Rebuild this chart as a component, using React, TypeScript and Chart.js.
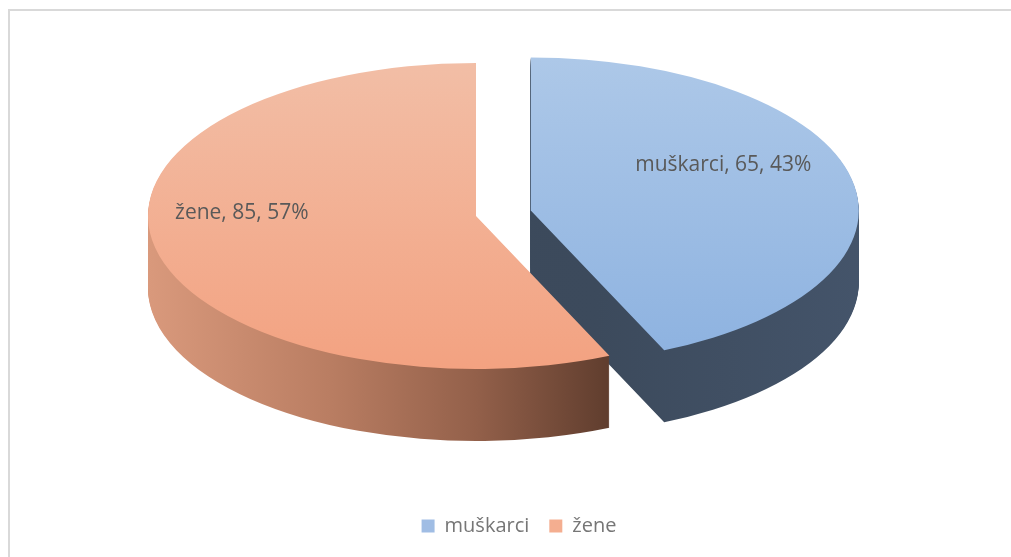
import { useEffect, useRef } from 'react';
import { Chart, registerables } from 'chart.js';

Chart.register(...registerables);

// ---- data ----
const categories = ['muškarci', 'žene'];
const values = [65, 85];

// ---- styles ----
const legendColors = ['#a0bde4', '#f4ae90'];
const topColors = [
  ['#adc8e8', '#8db2e0'],
  ['#f2bea6', '#f3a281'],
];
const sideStops: [number, string][][] = [
  [[0, '#3a4859'], [0.6, '#3c4a5c'], [1, '#44546a']],
  [[0, '#d9997c'], [0.28, '#b97d62'], [0.5, '#93604a'], [0.71, '#5e3c2d'], [1, '#5e3c2d']],
];
const explode = [56, 0];
const labelRadius = [0.6, 0.73];

const TILT = 0.4665;
const DEPTH = 72;
const RADIUS = 328;
const LIFT = 26;
const FONT = '"Open Sans", "Noto Sans", sans-serif';

const pie3d = {
  id: 'pie3d',
  beforeDatasetsDraw(chart: any) {
    const ctx: CanvasRenderingContext2D = chart.ctx;
    const meta = chart.getDatasetMeta(0);
    const arcs: any[] = meta.data;
    if (!arcs.length) return false;
    const cx = arcs[0].x;
    const cy = arcs[0].y;
    const R = arcs[0].outerRadius;

    const project = () => {
      ctx.translate(0, cy);
      ctx.scale(1, TILT);
      ctx.translate(0, -cy);
    };
    const shift = (i: number) => {
      const a = arcs[i];
      const h = (a.startAngle + a.endAngle) / 2;
      return [Math.cos(h) * explode[i], Math.sin(h) * explode[i]];
    };
    const drawWith = (arc: any, fill: any) => {
      const saved = arc.options;
      arc.options = Object.assign({}, saved, { backgroundColor: fill, borderWidth: 0, offset: 0, spacing: 0 });
      arc.draw(ctx);
      arc.options = saved;
    };

    // sides
    arcs.forEach((arc, i) => {
      const g = ctx.createLinearGradient(cx - R, 0, cx + R, 0);
      sideStops[i].forEach(([p, c]) => g.addColorStop(p, c));
      const [sx, sy] = shift(i);
      for (let d = DEPTH; d >= 1; d -= 1) {
        ctx.save();
        project();
        ctx.translate(sx, sy + d / TILT);
        drawWith(arc, g);
        ctx.restore();
      }
    });

    // tops
    arcs.forEach((arc, i) => {
      const g = ctx.createLinearGradient(0, cy - R, 0, cy + R);
      g.addColorStop(0, topColors[i][0]);
      g.addColorStop(1, topColors[i][1]);
      const [sx, sy] = shift(i);
      ctx.save();
      project();
      ctx.translate(sx, sy);
      drawWith(arc, g);
      ctx.restore();
    });

    // data labels
    const total = values.reduce((a, b) => a + b, 0);
    ctx.save();
    ctx.font = `21px ${FONT}`;
    ctx.fillStyle = '#595959';
    ctx.textAlign = 'center';
    ctx.textBaseline = 'middle';
    arcs.forEach((arc, i) => {
      const h = (arc.startAngle + arc.endAngle) / 2;
      const [sx, sy] = shift(i);
      const ux = cx + sx + Math.cos(h) * R * labelRadius[i];
      const uy = cy + sy + Math.sin(h) * R * labelRadius[i];
      const x = ux;
      const y = cy + (uy - cy) * TILT - LIFT;
      const pct = Math.round((values[i] / total) * 100);
      ctx.fillText(`${categories[i]}, ${values[i]}, ${pct}%`, x, y);
    });
    ctx.restore();
    return false;
  },
};

export default function App() {
  const ref = useRef<HTMLCanvasElement>(null);
  useEffect(() => {
    if (!ref.current) return;
    const chart = new Chart(ref.current, {
      type: 'pie',
      data: {
        labels: categories,
        datasets: [
          {
            data: values,
            backgroundColor: legendColors,
            borderWidth: 0,
            radius: RADIUS,
          } as any,
        ],
      },
      options: {
        animation: false,
        responsive: true,
        maintainAspectRatio: false,
        events: [],
        radius: RADIUS,
        layout: { padding: { top: 0, left: 25, right: 0, bottom: 4 } },
        plugins: {
          tooltip: { enabled: false },
          title: {
            display: true,
            position: 'right',
            text: '',
            font: { size: 10 },
            padding: { top: 0, bottom: 74 },
          },
          legend: {
            position: 'bottom',
            title: {
              display: true,
              text: '',
              font: { size: 10 },
              padding: { top: 63, bottom: 0 },
            },
            labels: {
              boxWidth: 13,
              boxHeight: 13,
              padding: 20,
              color: '#767676',
              font: { family: FONT, size: 20 },
            },
          },
        },
      } as any,
      plugins: [pie3d],
    });
    return () => chart.destroy();
  }, []);
  return (
    <div
      style={{
        position: 'fixed',
        left: 8,
        top: 9,
        right: 0,
        bottom: 0,
        boxSizing: 'border-box',
        borderTop: '2px solid #d9d9d9',
        borderLeft: '2px solid #d9d9d9',
      }}
    >
      <div style={{ position: 'relative', width: 993, height: 539 }}>
        <canvas ref={ref} style={{ display: 'block' }} />
      </div>
    </div>
  );
}
